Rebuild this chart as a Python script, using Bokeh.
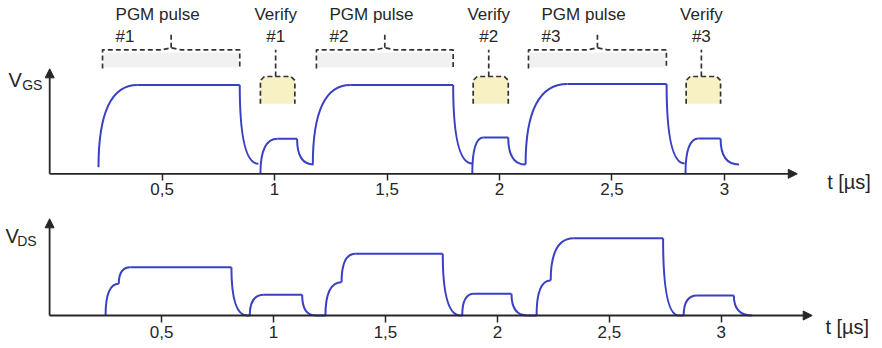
from bokeh.plotting import figure
from bokeh.models import Range1d, LinearAxis, FixedTicker, Arrow, NormalHead, ColumnDataSource
from bokeh.core.properties import value
from bokeh.embed import file_html
from bokeh.resources import INLINE

# ---------------- data ----------------
tick_values = [0.5, 1.0, 1.5, 2.0, 2.5, 3.0]
tick_labels = ["0,5", "1", "1,5", "2", "2,5", "3"]
pulse_ids = ["#1", "#2", "#3"]

# V_GS (relative units, PGM plateau ~ 1), times in us
gs_pgm_start = [0.217, 1.170, 2.116]
gs_pgm_start_level = [0.074, 0.105, 0.105]
gs_pgm_top_start = [0.390, 1.337, 2.302]
gs_pgm_level = [1.00, 1.00, 1.01]
gs_pgm_end = [0.845, 1.794, 2.743]
gs_fall_end = [0.928, 1.879, 2.823]
gs_fall_level = [0.113, 0.116, 0.116]
gs_ver_start = [0.937, 1.879, 2.827]
gs_ver_top_start = [1.013, 1.929, 2.885]
gs_ver_level = [0.394, 0.410, 0.398]
gs_ver_end = [1.100, 2.039, 2.983]
gs_ver_decay_end = [1.173, 2.116, 3.065]
gs_ver_decay_level = [0.105, 0.105, 0.105]

# V_DS
ds_pgm_start = [0.250, 1.232, 2.175]
ds_kink_t = [0.309, 1.304, 2.238]
ds_kink_level = [0.357, 0.375, 0.394]
ds_pgm_top_start = [0.361, 1.366, 2.341]
ds_pgm_level = [0.544, 0.695, 0.870]
ds_pgm_end = [0.812, 1.756, 2.740]
ds_fall_end = [0.883, 1.835, 2.810]
ds_ver_start = [0.894, 1.843, 2.832]
ds_ver_top_start = [0.957, 1.895, 2.892]
ds_ver_level = [0.233, 0.244, 0.225]
ds_ver_end = [1.128, 2.063, 3.056]
ds_ver_decay_end = [1.188, 2.133, 3.138]

# annotation spans
pgm_brace_left = [0.235, 1.186, 2.129]
pgm_brace_right = [0.845, 1.794, 2.742]
verify_box_left = [0.937, 1.883, 2.830]
verify_box_right = [1.090, 2.039, 2.983]

# ---------------- style / layout ----------------
BLUE = "#3a40c2"
INK = "#262626"
DASH = "#333333"
FONT = value("Liberation Sans")
PX_T = 224.9          # px per us (top)
PX_Y = 88.8           # px per unit

p = figure(width=882, height=348,
           x_range=Range1d(-0.21876, 3.70298), y_range=Range1d(-1.96734, 1.95158),
           x_axis_type=None, y_axis_type=None,
           toolbar_location=None, output_backend="svg", min_border=0,
           outline_line_color=None)
p.extra_x_ranges = {"b": Range1d(-0.21929, 3.71996)}
p.extra_y_ranges = {"vds": Range1d(-0.37162, 3.5473)}
p.background_fill_color = "white"
p.border_fill_color = "white"

# ---- waveforms: V_GS ----
q = dict(x0=[], y0=[], x1=[], y1=[], cx=[], cy=[])
s = dict(x0=[], y0=[], x1=[], y1=[])
def quad(a, b, c):
    q["x0"].append(a[0]); q["y0"].append(a[1])
    q["x1"].append(b[0]); q["y1"].append(b[1])
    q["cx"].append(c[0]); q["cy"].append(c[1])
def seg(a, b, d):
    d["x0"].append(a[0]); d["y0"].append(a[1]); d["x1"].append(b[0]); d["y1"].append(b[1])

for i in range(3):
    L = gs_pgm_level[i]
    quad((gs_pgm_start[i], gs_pgm_start_level[i]), (gs_pgm_top_start[i], L), (gs_pgm_start[i], L))
    seg((gs_pgm_top_start[i], L), (gs_pgm_end[i], L), s)
    quad((gs_pgm_end[i], L), (gs_fall_end[i], gs_fall_level[i]), (gs_pgm_end[i], gs_fall_level[i]))
    V = gs_ver_level[i]
    quad((gs_ver_start[i], 0), (gs_ver_top_start[i], V), (gs_ver_start[i], V))
    seg((gs_ver_top_start[i], V), (gs_ver_end[i], V), s)
    quad((gs_ver_end[i], V), (gs_ver_decay_end[i], gs_ver_decay_level[i]), (gs_ver_end[i], gs_ver_decay_level[i]))

p.quadratic(x0="x0", y0="y0", x1="x1", y1="y1", cx="cx", cy="cy",
            source=ColumnDataSource(q), line_color=BLUE, line_width=2)
p.segment(x0="x0", y0="y0", x1="x1", y1="y1", source=ColumnDataSource(s),
          line_color=BLUE, line_width=2)

# ---- waveforms: V_DS ----
q = dict(x0=[], y0=[], x1=[], y1=[], cx=[], cy=[])
s = dict(x0=[], y0=[], x1=[], y1=[])
for i in range(3):
    K = ds_kink_level[i]; L = ds_pgm_level[i]; V = ds_ver_level[i]
    quad((ds_pgm_start[i], 0), (ds_kink_t[i], K), (ds_pgm_start[i], K))
    quad((ds_kink_t[i], K), (ds_pgm_top_start[i], L), (ds_kink_t[i], L))
    seg((ds_pgm_top_start[i], L), (ds_pgm_end[i], L), s)
    quad((ds_pgm_end[i], L), (ds_fall_end[i], 0), (ds_pgm_end[i], 0))
    seg((ds_fall_end[i], 0), (ds_ver_start[i], 0), s)
    quad((ds_ver_start[i], 0), (ds_ver_top_start[i], V), (ds_ver_start[i], V))
    seg((ds_ver_top_start[i], V), (ds_ver_end[i], V), s)
    quad((ds_ver_end[i], V), (ds_ver_decay_end[i], 0), (ds_ver_end[i], 0))
    if i < 2:
        seg((ds_ver_decay_end[i], 0), (ds_pgm_start[i + 1], 0), s)

p.quadratic(x0="x0", y0="y0", x1="x1", y1="y1", cx="cx", cy="cy",
            source=ColumnDataSource(q), line_color=BLUE, line_width=2,
            x_range_name="b", y_range_name="vds")
p.segment(x0="x0", y0="y0", x1="x1", y1="y1", source=ColumnDataSource(s),
          line_color=BLUE, line_width=2, x_range_name="b", y_range_name="vds")

# ---- axes ----
overrides = {float(v): l for v, l in zip(tick_values, tick_labels)}
ax_kw = dict(fixed_location=0, ticker=FixedTicker(ticks=tick_values),
             major_label_overrides=overrides, axis_line_color=None,
             major_tick_in=0, major_tick_out=7, major_tick_line_width=1.5,
             major_tick_line_color=INK, minor_tick_line_color=None,
             major_label_text_font="Liberation Sans",
             major_label_text_font_size="17px", major_label_text_color=INK)
p.add_layout(LinearAxis(major_label_standoff=2, **ax_kw), "below")
p.add_layout(LinearAxis(major_label_standoff=3, x_range_name="b", y_range_name="vds", **ax_kw), "below")

x_tip_top = 3.324
x_tip_bot = 3.406
y_tip_top = 1.182
y_tip_bot = 1.089
head = dict(size=9, fill_color=INK, line_color=INK)
p.add_layout(Arrow(end=NormalHead(**head), x_start=0, y_start=0, x_end=x_tip_top, y_end=0,
                   line_width=1.8, line_color=INK))
p.add_layout(Arrow(end=NormalHead(**head), x_start=0, y_start=0, x_end=0, y_end=y_tip_top,
                   line_width=1.8, line_color=INK))
p.add_layout(Arrow(end=NormalHead(**head), x_start=0, y_start=0, x_end=x_tip_bot, y_end=0,
                   line_width=1.8, line_color=INK, x_range_name="b", y_range_name="vds"))
p.add_layout(Arrow(end=NormalHead(**head), x_start=0, y_start=0, x_end=0, y_end=y_tip_bot,
                   line_width=1.8, line_color=INK, x_range_name="b", y_range_name="vds"))

# axis titles
txt = dict(text_font=FONT, text_color=INK, text_baseline="middle", text_align="left")
p.text(x=[0], y=[1.060], text=["V"], x_offset=-41.2, text_font_size="20px", **txt)
p.text(x=[0], y=[1.003], text=["GS"], x_offset=-27.5, text_font_size="14px", **txt)
p.text(x=[0], y=[0.892], text=["V"], x_offset=-44.1, text_font_size="20px",
       x_range_name="b", y_range_name="vds", **txt)
p.text(x=[0], y=[0.836], text=["DS"], x_offset=-32.4, text_font_size="14px",
       x_range_name="b", y_range_name="vds", **txt)
p.text(x=[3.457], y=[-0.091], text=["t [µs]"], text_font_size="20px", **txt)
p.text(x=[3.465], y=[-0.128], text=["t [µs]"], text_font_size="20px",
       x_range_name="b", y_range_name="vds", **txt)

# ---- PGM braces ----
b_top, b_bot, b_peak, b_ptr = 1.396, 1.185, 1.419, 1.588
f_lo, f_hi = 1.197, 1.366
d = 10 / PX_T
inset = 1.5 / PX_T
p.quad(left=[l + inset for l in pgm_brace_left], right=[r - inset for r in pgm_brace_right],
       bottom=[f_lo] * 3, top=[f_hi] * 3, fill_color="#f1f1f1", line_color=None)
bx, by = [], []
for l, r in zip(pgm_brace_left, pgm_brace_right):
    c = (l + r) / 2
    bx.append([l, l, c - d, c, c + d, r, r]); by.append([b_bot, b_top, b_top, b_peak, b_top, b_top, b_bot])
    bx.append([c, c]); by.append([b_peak, b_ptr])
p.multi_line(xs=bx, ys=by, line_color=DASH, line_width=1.7, line_dash="5 3")

# ---- verify boxes ----
v_top, v_bot = 1.096, 0.788
rx, ry = 4 / PX_T, 4 / PX_Y
vx, vy, ox, oy = [], [], [], []
for l, r in zip(verify_box_left, verify_box_right):
    shape_x = [l, l, l + rx, r - rx, r, r]
    shape_y = [v_bot, v_top - ry, v_top, v_top, v_top - ry, v_bot]
    vx.append(shape_x); vy.append(shape_y)
    ox.append(shape_x); oy.append(shape_y)
    c = (l + r) / 2 - 2 / PX_T
    ox.append([c, c]); oy.append([v_top, b_top])
p.patches(xs=vx, ys=vy, fill_color="#f8f1c4", line_color=None)
p.multi_line(xs=ox, ys=oy, line_color=DASH, line_width=1.7, line_dash="5 3")

# ---- labels ----
lab = dict(text_font=FONT, text_color=INK, text_baseline="middle", text_font_size="17px")
y_title, y_id = 1.798, 1.548
p.text(x=pgm_brace_left, y=[y_title] * 3, text=["PGM pulse"] * 3, x_offset=13, text_align="left", **lab)
p.text(x=pgm_brace_left, y=[y_id] * 3, text=pulse_ids, x_offset=13, text_align="left", **lab)
vc = [(l + r) / 2 for l, r in zip(verify_box_left, verify_box_right)]
p.text(x=vc, y=[y_title] * 3, text=["Verify"] * 3, x_offset=-2, text_align="center", **lab)
p.text(x=vc, y=[y_id] * 3, text=pulse_ids, x_offset=-2, text_align="center", **lab)

open("out.html", "w").write(file_html(p, INLINE))
